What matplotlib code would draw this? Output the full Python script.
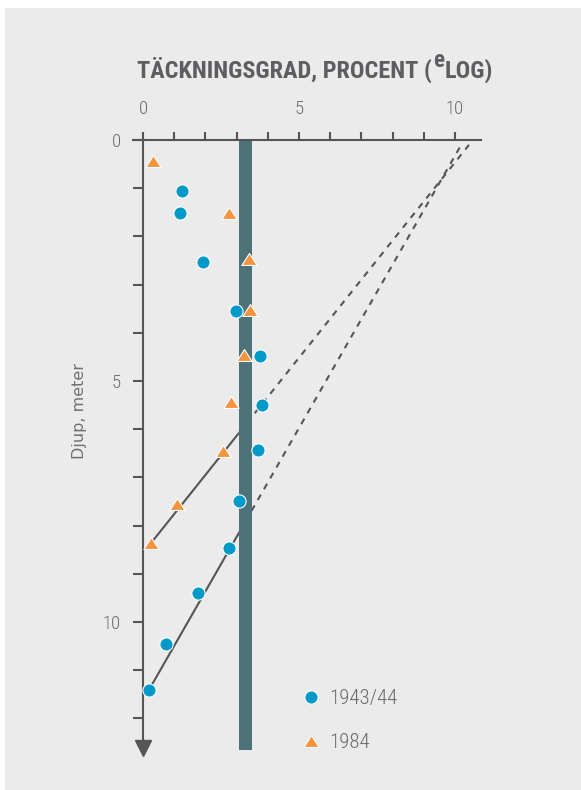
import numpy as np
import matplotlib.pyplot as plt
from matplotlib import font_manager as fm
from matplotlib.patches import Rectangle
from matplotlib.path import Path

W, H = 581, 790

# --- data ---
depth_1943 = [1.06, 1.51, 2.53, 3.55, 4.48, 5.5, 6.43, 7.49, 8.46, 9.4, 10.46, 11.41]
cover_1943 = [1.25, 1.19, 1.92, 2.98, 3.75, 3.81, 3.69, 3.08, 2.76, 1.76, 0.74, 0.19]
depth_1984 = [0.44, 1.51, 2.47, 3.53, 4.46, 5.44, 6.45, 7.55, 8.36]
cover_1984 = [0.32, 2.76, 3.40, 3.43, 3.24, 2.82, 2.56, 1.09, 0.26]

# fitted lines: (cover, depth) at deep end and at surface
fit_1943 = [(0.19, 11.41), (10.2, 0.1)]
fit_1984 = [(0.26, 8.36), (10.45, 0.1)]

band_x = 3.28      # vertical band (reference level)
band_w = 0.40
band_depth = 12.66

xticks_major = [0, 5, 10]
yticks_major = [0, 5, 10]

GRAY = '#5e5e62'
AX = '#555555'
BLUE = '#0099c8'
ORANGE = '#f5933f'
BAND = '#4d7279'
BG = '#ebebeb'

# pick the narrowest installed sans
names = {f.name for f in fm.fontManager.ttflist}
cond = 'Roboto'
for n in ['Roboto Condensed', 'Liberation Sans Narrow', 'Open Sans Condensed', 'Roboto', 'Lato']:
    if n in names:
        cond = n
        break
stretch = 'normal'
if cond == 'Roboto' and any(f.name == 'Roboto' and f.stretch == 'condensed' for f in fm.fontManager.ttflist):
    stretch = 'condensed'

fig = plt.figure(figsize=(W / 100, H / 100), dpi=100, facecolor='white')
fig.patches.append(Rectangle((5 / W, 0), 1, 1 - 8 / H, transform=fig.transFigure,
                             facecolor=BG, edgecolor='none', zorder=-10))

# axes placed so that x=0 -> px 143, x=10 -> px 455, y=0 -> px 140, y=10 -> px 622
px_x, px_y = 31.2, 48.2
x0, x1 = -1, 11
y0, y1 = -1, 13
left = (143 + x0 * px_x) / W
right = (143 + x1 * px_x) / W
top = (140 + y0 * px_y)
bot = (140 + y1 * px_y)
ax = fig.add_axes([left, 1 - bot / H, right - left, (bot - top) / H])
ax.set_xlim(x0, x1)
ax.set_ylim(y1, y0)
ax.patch.set_visible(False)

for s in ['bottom', 'right']:
    ax.spines[s].set_visible(False)
ax.spines['top'].set_position(('data', 0))
ax.spines['top'].set_bounds(-0.32, 10.83)
ax.spines['left'].set_position(('data', 0))
ax.spines['left'].set_bounds(0, 12.6)
for s in ['top', 'left']:
    ax.spines[s].set_color(AX)
    ax.spines[s].set_linewidth(1.5)

ax.xaxis.set_ticks_position('top')
ax.set_xticks(xticks_major)
ax.set_xticks(np.arange(0, 11), minor=True)
ax.set_yticks(yticks_major)
ax.set_yticks(np.arange(0, 13), minor=True)
ax.tick_params(axis='both', which='both', color=AX, width=1.5, direction='out')
ax.tick_params(axis='x', which='both', length=6, pad=10)
ax.tick_params(axis='y', which='both', length=7, pad=9)
ax.tick_params(labelsize=13.5, labelcolor='#6a6a6a')
for lab in ax.get_xticklabels() + ax.get_yticklabels():
    lab.set_family(cond)
    lab.set_stretch(stretch)
    lab.set_fontweight('light')

# arrow head at the bottom of the depth axis
ax.plot([0], [12.62], marker='v', markersize=12, color=AX, clip_on=False, zorder=3)

# band
ax.bar(band_x, band_depth, width=band_w, bottom=0, color=BAND, zorder=2)

# fit lines: solid up to the band, dashed beyond
def fit_line(p):
    (xa, ya), (xb, yb) = p
    xs = band_x - band_w / 2
    t = (xs - xa) / (xb - xa)
    ys = ya + t * (yb - ya)
    ax.plot([xa, xs], [ya, ys], color=AX, lw=1.5, zorder=1, solid_capstyle='butt')
    ax.plot([xs, xb], [ys, yb], color=AX, lw=1.5, zorder=1, dashes=(3, 3))

fit_line(fit_1943)
fit_line(fit_1984)

tri = Path([(0, 0.78), (-1, -0.78), (1, -0.78), (0, 0.78)],
           [Path.MOVETO, Path.LINETO, Path.LINETO, Path.CLOSEPOLY])
h1, = ax.plot(cover_1943, depth_1943, 'o', ms=9.5, mfc=BLUE, mec='white', mew=0.8,
              zorder=4, clip_on=False, label='1943/44')
h2, = ax.plot(cover_1984, depth_1984, marker=tri, ls='none', ms=11, mfc=ORANGE, mec='white',
              mew=0.8, zorder=4, clip_on=False, label='1984')

leg = ax.legend(handles=[h1, h2], loc='upper left', bbox_to_anchor=(301 / W, 1 - 689 / H),
                bbox_transform=fig.transFigure, frameon=False, handlelength=1.0,
                handletextpad=0.35, labelspacing=1.2, borderpad=0, borderaxespad=0,
                prop={'family': cond, 'size': 15, 'stretch': stretch, 'weight': 'light'})
for t in leg.get_texts():
    t.set_color('#6a6a6a')

# y label
fig.text(80 / W, 1 - 411 / H, 'Djup, meter', rotation=90, ha='center', va='center',
         fontsize=11.5, color='#707070', family='DejaVu Sans')

# title in three pieces for the raised "e", sized to span px 137..493
def title(fs):
    tkw = dict(fontsize=fs, fontweight='bold', color=GRAY, family=cond, stretch=stretch,
               va='baseline', ha='left')
    t1 = fig.text(137 / W, 1 - 78 / H, 'TÄCKNINGSGRAD, PROCENT (', **tkw)
    bb = t1.get_window_extent(r)
    t2 = fig.text((bb.x1 + 1) / W, 1 - 67 / H, 'e', **{**tkw, 'fontsize': fs * 0.95})
    bb2 = t2.get_window_extent(r)
    t3 = fig.text((bb2.x1 + 1) / W, 1 - 78 / H, 'LOG)', **tkw)
    return [t1, t2, t3], t3.get_window_extent(r).x1

fig.canvas.draw()
r = fig.canvas.get_renderer()
parts, x_end = title(20)
fs = 20 * (493 - 137) / (x_end - 137)
for p in parts:
    p.remove()
title(fs)

fig.savefig('out.png', dpi=100, facecolor=fig.get_facecolor())
